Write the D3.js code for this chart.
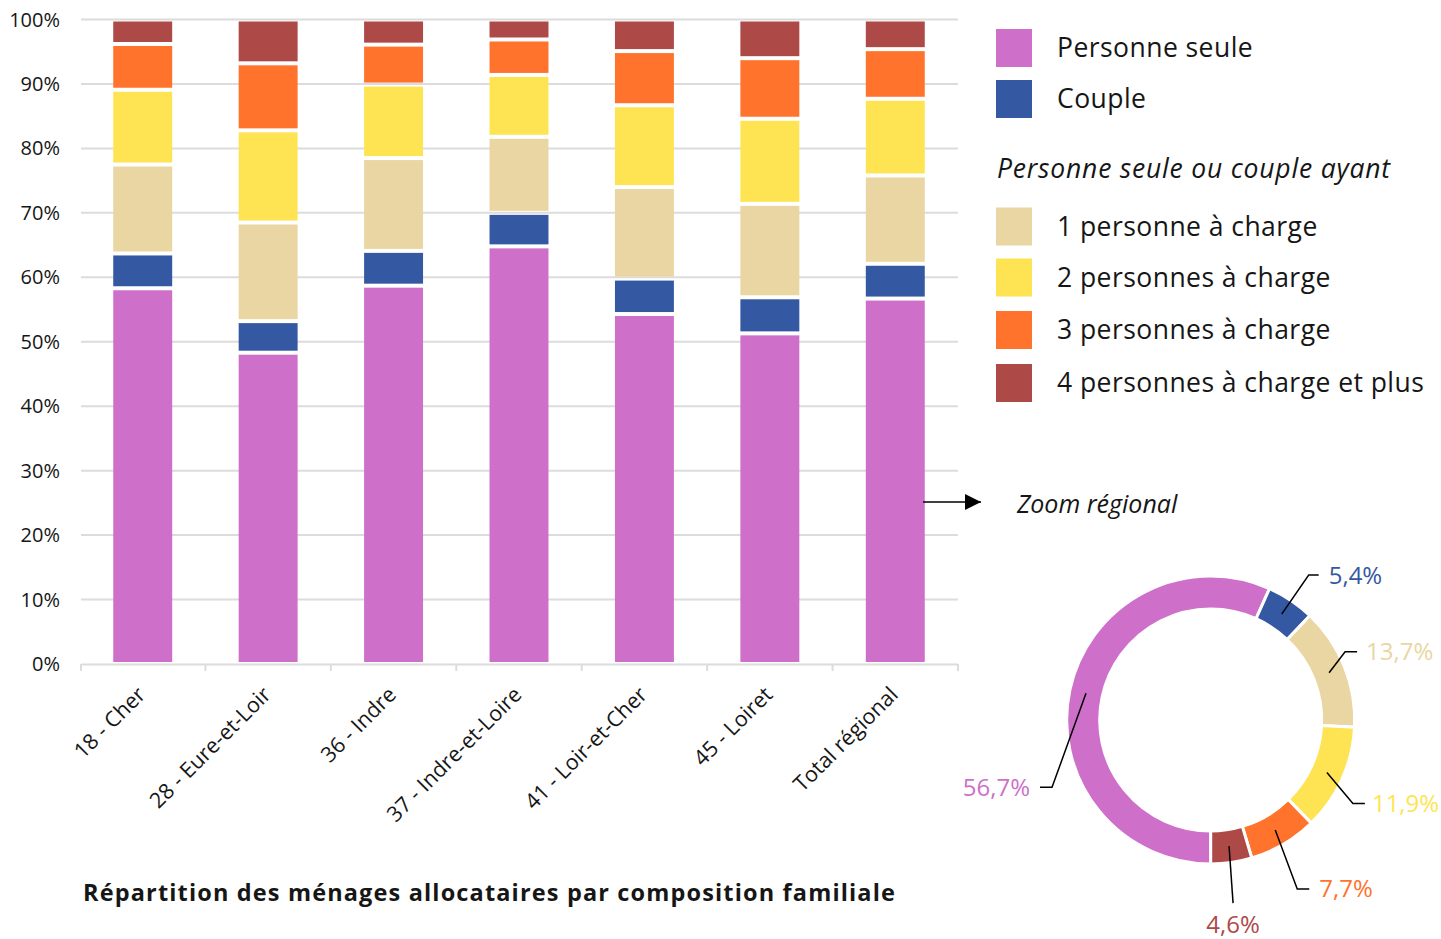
<!DOCTYPE html>
<html lang="fr">
<head>
<meta charset="utf-8">
<script src="https://cdn.jsdelivr.net/npm/d3@7"></script>
<style>
  html, body { margin: 0; padding: 0; background: #fff; }
  svg { display: block; font-family: "Open Sans", "Noto Sans", sans-serif; }
</style>
</head>
<body>
<svg id="chart" width="1441" height="939"></svg>
<script>
// ---------- DATA ----------
const categories = ["18 - Cher", "28 - Eure-et-Loir", "36 - Indre", "37 - Indre-et-Loire", "41 - Loir-et-Cher", "45 - Loiret", "Total régional"];
const seriesNames = ["Personne seule", "Couple", "1 personne à charge", "2 personnes à charge", "3 personnes à charge", "4 personnes à charge et plus"];
const personneSeule   = [58.3, 48.3, 58.7, 64.8, 54.3, 51.3, 56.7];
const couple          = [5.4, 4.9, 5.4, 5.2, 5.5, 5.6, 5.4];
const unePersonne     = [13.8, 15.3, 14.4, 11.8, 14.2, 14.5, 13.7];
const deuxPersonnes   = [11.6, 14.3, 11.4, 9.6, 12.7, 13.2, 11.9];
const troisPersonnes  = [7.1, 10.4, 6.2, 5.5, 8.4, 9.4, 7.7];
const quatrePlus      = [3.8, 6.8, 3.9, 3.1, 4.9, 6.0, 4.6];
const yTicks = [0, 10, 20, 30, 40, 50, 60, 70, 80, 90, 100];
const donutValues = [56.7, 5.4, 13.7, 11.9, 7.7, 4.6];
const titleText = "Répartition des ménages allocataires par composition familiale";
const legendSubtitle = "Personne seule ou couple ayant";
const zoomText = "Zoom régional";

// ---------- STYLE ----------
const colors = ["#CE70CA", "#3558A2", "#EAD6A3", "#FEE453", "#FF732D", "#AD4947"];
const labelColors = ["#CE70CA", "#3558A2", "#EAD6A3", "#FEE453", "#FF732D", "#AD4947"];

const svg = d3.select("#chart");
const margin = { left: 80, right: 958, top: 19.5, bottom: 664 };

const allSeries = [personneSeule, couple, unePersonne, deuxPersonnes, troisPersonnes, quatrePlus];
const rows = categories.map((c, i) => {
  const o = { cat: c };
  seriesNames.forEach((s, k) => o[s] = allSeries[k][i]);
  return o;
});

const x = d3.scaleBand().domain(categories).range([margin.left, margin.right])
  .paddingInner(0.53).paddingOuter(0.265);
const y = d3.scaleLinear().domain([0, 100]).range([margin.bottom, margin.top]);

// gridlines
svg.append("g").selectAll("line").data(yTicks.filter(d => d > 0)).join("line")
  .attr("x1", margin.left + 1).attr("x2", margin.right)
  .attr("y1", d => y(d)).attr("y2", d => y(d))
  .attr("stroke", "#dcdcdc").attr("stroke-width", 2);

// y labels
svg.append("g").selectAll("text").data(yTicks).join("text")
  .attr("x", 60).attr("y", d => y(d)).attr("dy", "0.35em")
  .attr("text-anchor", "end").attr("font-size", 20).attr("fill", "#161616")
  .text(d => d + "%");

// stacked bars
const stack = d3.stack().keys(seriesNames)(rows);
const gap = 2;
svg.append("g").selectAll("g").data(stack).join("g")
  .attr("fill", (d, i) => colors[i])
  .selectAll("rect").data(d => d).join("rect")
  .attr("x", d => x(d.data.cat))
  .attr("width", x.bandwidth())
  .attr("y", d => y(d[1]) + gap)
  .attr("height", d => Math.max(0, y(d[0]) - y(d[1]) - 2 * gap));

// x axis line + ticks
const axisG = svg.append("g");
axisG.append("line").attr("x1", margin.left + 1).attr("x2", margin.right)
  .attr("y1", y(0) + 0.5).attr("y2", y(0) + 0.5).attr("stroke", "#dcdcdc").attr("stroke-width", 2);
const boundaries = categories.map(c => x(c) - x.step() * x.paddingInner() / 2).concat([margin.right]);
boundaries[0] = margin.left + 1;
axisG.selectAll("line.tick").data(boundaries).join("line").attr("class", "tick")
  .attr("x1", d => d).attr("x2", d => d)
  .attr("y1", y(0)).attr("y2", y(0) + 7)
  .attr("stroke", "#dcdcdc").attr("stroke-width", 2);

// x labels
svg.append("g").selectAll("text").data(categories).join("text")
  .attr("transform", d => `translate(${x(d) + x.bandwidth() / 2 + 4},${y(0) + 32}) rotate(-45)`)
  .attr("text-anchor", "end").attr("font-size", 21.5).attr("fill", "#161616")
  .text(d => d);

// title
svg.append("text").attr("x", 83).attr("y", 901)
  .attr("font-size", 23.5).attr("font-weight", 700).attr("letter-spacing", 1.15).attr("fill", "#161616")
  .text(titleText);

// legend
const legend = svg.append("g");
const legendY = [29, 80, 207.5, 258.5, 311, 364];
seriesNames.forEach((s, i) => {
  legend.append("rect").attr("x", 996).attr("y", legendY[i]).attr("width", 36).attr("height", 38)
    .attr("fill", colors[i]);
  legend.append("text").attr("x", 1057).attr("y", legendY[i] + 19).attr("dy", "0.35em")
    .attr("font-size", 26.5).attr("letter-spacing", 0.45).attr("fill", "#161616").text(s);
});
legend.append("text").attr("x", 997).attr("y", 178).attr("font-size", 26.5).attr("letter-spacing", 0.8)
  .attr("font-style", "italic").attr("fill", "#161616").text(legendSubtitle);

// arrow + zoom text
svg.append("defs").append("marker").attr("id", "arrowhead")
  .attr("viewBox", "0 0 10 10").attr("refX", 10).attr("refY", 5)
  .attr("markerWidth", 16).attr("markerHeight", 16).attr("markerUnits", "userSpaceOnUse")
  .attr("orient", "auto")
  .append("path").attr("d", "M0,0 L10,5 L0,10 Z").attr("fill", "#000");
svg.append("line").attr("x1", 923).attr("x2", 981).attr("y1", 502).attr("y2", 502)
  .attr("stroke", "#000").attr("stroke-width", 1.5).attr("marker-end", "url(#arrowhead)");
svg.append("text").attr("x", 1017).attr("y", 513).attr("font-size", 25)
  .attr("font-style", "italic").attr("fill", "#161616").text(zoomText);

// donut
const cx = 1210.7, cy = 720, rOuter = 144, rInner = 111;
const pie = d3.pie().sort(null).startAngle(Math.PI).endAngle(3 * Math.PI);
const arcs = pie(donutValues);
const arc = d3.arc().innerRadius(rInner).outerRadius(rOuter);
const dg = svg.append("g").attr("transform", `translate(${cx},${cy})`);
dg.selectAll("path").data(arcs).join("path")
  .attr("d", arc).attr("fill", (d, i) => colors[i])
  .attr("stroke", "#fff").attr("stroke-width", 3);

// donut labels (layout: elbow offset from centroid, horizontal run direction)
const labelLayout = [
  { dx: -34, dy: 94, run: -12, anchor: "end", pad: 10 },
  { dx: 27, dy: -39, run: 10, anchor: "start", pad: 10 },
  { dx: 16, dy: -21, run: 12, anchor: "start", pad: 9 },
  { dx: 26, dy: 31, run: 12, anchor: "start", pad: 7 },
  { dx: 22, dy: 59, run: 12, anchor: "start", pad: 10 },
  { dx: 4, dy: 57, run: 0, anchor: "middle", pad: 0 }
];
const midArc = d3.arc().innerRadius((rInner + rOuter) / 2).outerRadius((rInner + rOuter) / 2);
arcs.forEach((a, i) => {
  const [px, py] = midArc.centroid(a);
  const L = labelLayout[i];
  const ex = px + L.dx, ey = py + L.dy;
  const lx = ex + L.run;
  dg.append("path")
    .attr("d", `M${px},${py}L${ex},${ey}L${lx},${ey}`)
    .attr("fill", "none").attr("stroke", "#000").attr("stroke-width", 1.5);
  const t = dg.append("text").attr("font-size", 24).attr("fill", labelColors[i])
    .attr("text-anchor", L.anchor)
    .text(d3.format(".1f")(a.data).replace(".", ",") + "%");
  if (L.anchor === "middle") {
    t.attr("x", ex).attr("y", ey + 30);
  } else {
    t.attr("x", lx + (L.run > 0 ? L.pad : -L.pad)).attr("y", ey + 8.5);
  }
});
</script>
</body>
</html>
